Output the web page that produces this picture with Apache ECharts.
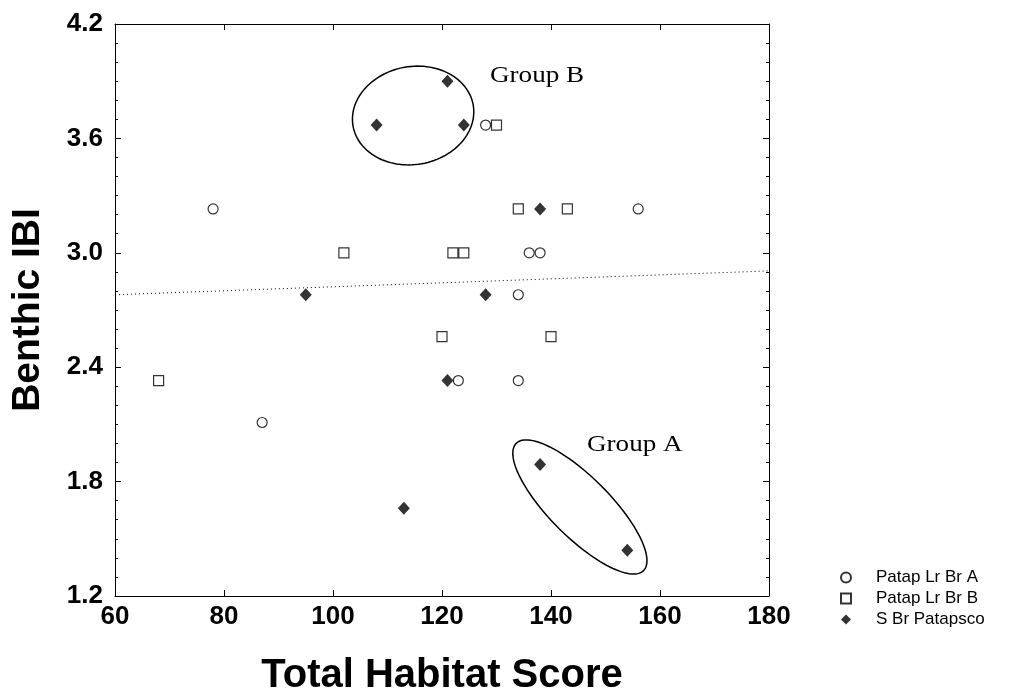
<!DOCTYPE html>
<html>
<head>
<meta charset="utf-8">
<script src="https://cdn.jsdelivr.net/npm/echarts@6/dist/echarts.min.js"></script>
<style>
  html, body { margin: 0; padding: 0; background: #fff; }
  #main { width: 1016px; height: 696px; }
</style>
</head>
<body>
<div id="main"></div>
<script>
// habitat score / benthic IBI pairs for each stream group
var patapA = [[128, 3.67], [78, 3.23], [156, 3.23], [136, 3.0], [138, 3.0],
  [134, 2.78], [123, 2.33], [134, 2.33], [87, 2.11]];
var patapB = [[130, 3.67], [134, 3.23], [143, 3.23], [102, 3.0], [122, 3.0],
  [124, 3.0], [120, 2.56], [140, 2.56], [68, 2.33]];
var sBrPatapsco = [[121, 3.9], [108, 3.67], [124, 3.67], [138, 3.23], [95, 2.78],
  [128, 2.78], [121, 2.33], [113, 1.66], [138, 1.89], [154, 1.44]];

// fitted trend line end points
var trendX = [60, 180];
var trendY = [2.78, 2.905];

// circled groups: centre in data units, label anchor in data units
var groupNames = ['Group B', 'Group A'];
var groupCentres = [[114.7, 3.72], [145.3, 1.667]];
var groupLabelAt = [[128.8, 3.93], [146.6, 1.99]];

var xTicks = [60, 80, 100, 120, 140, 160, 180];
var yTicks = [1.2, 1.8, 2.4, 3.0, 3.6, 4.2];

// ellipse shape in pixels (radius a, radius b, rotation degrees)
var ellipseShape = [[61, 49, -10], [90, 30, 45]];

var chart = echarts.init(document.getElementById('main'));

var sans = 'Arial, "Liberation Sans"';
var tickFont = { fontFamily: sans, fontWeight: 'bold', fontSize: 26, color: '#000' };

function boxAxisX(pos, showLabel) {
  return {
    type: 'value', position: pos, min: xTicks[0], max: xTicks[xTicks.length - 1], interval: 20,
    axisLine: { show: true, onZero: false, lineStyle: { color: '#000', width: 1 } },
    axisTick: { show: true, inside: true, length: 6, lineStyle: { color: '#000' } },
    splitLine: { show: false },
    axisLabel: Object.assign({ show: showLabel, margin: 8 }, tickFont)
  };
}
function boxAxisY(pos, showLabel) {
  return {
    type: 'value', position: pos, min: yTicks[0], max: yTicks[yTicks.length - 1], interval: 0.6,
    axisLine: { show: true, onZero: false, lineStyle: { color: '#000', width: 1 } },
    axisTick: { show: true, inside: true, length: 6, lineStyle: { color: '#000' } },
    minorTick: { show: true, splitNumber: 6, length: 3, lineStyle: { color: '#000' } },
    splitLine: { show: false },
    axisLabel: Object.assign({ show: showLabel, margin: 12, formatter: function (v) { return v.toFixed(1); } }, tickFont)
  };
}

var xAxes = [boxAxisX('bottom', true), boxAxisX('top', false)];
xAxes[0].name = 'Total Habitat Score';
xAxes[0].nameLocation = 'middle';
xAxes[0].nameGap = 60;
xAxes[0].nameTextStyle = { fontFamily: sans, fontWeight: 'bold', fontSize: 40, color: '#000' };
var yAxes = [boxAxisY('left', true), boxAxisY('right', false)];
yAxes[0].name = 'Benthic IBI';
yAxes[0].nameLocation = 'middle';
yAxes[0].nameGap = 67;
yAxes[0].nameTextStyle = { fontFamily: sans, fontWeight: 'bold', fontSize: 39, color: '#000' };

function openMarker(sym, size) {
  return { symbol: sym, symbolSize: size, itemStyle: { color: '#fff', borderColor: '#000', borderWidth: 1.2 } };
}

chart.setOption({
  animation: false,
  backgroundColor: '#fff',
  grid: { left: 115, right: 247, top: 24, bottom: 100, outerBoundsMode: 'none', containLabel: false },
  xAxis: xAxes,
  yAxis: yAxes,
  legend: {
    data: ['Patap Lr Br A', 'Patap Lr Br B', 'S Br Patapsco'],
    orient: 'vertical', left: 835, top: 564,
    itemWidth: 10, itemHeight: 10, itemGap: 4,
    textStyle: { fontFamily: sans, fontSize: 17, color: '#000', padding: [0, 0, 0, 20] }
  },
  series: [
    Object.assign({ name: 'Patap Lr Br A', type: 'scatter', data: patapA }, openMarker('circle', 10)),
    Object.assign({ name: 'Patap Lr Br B', type: 'scatter', data: patapB }, openMarker('rect', 10)),
    { name: 'S Br Patapsco', type: 'scatter', data: sBrPatapsco, symbol: 'diamond', symbolSize: [12, 13],
      itemStyle: { color: '#000' } },
    { name: 'trend', type: 'line', data: trendX.map(function (x, i) { return [x, trendY[i]]; }),
      symbol: 'none', silent: true,
      lineStyle: { color: '#000', width: 1, type: [1, 3] } },
    { name: 'groups', type: 'custom', clip: false, silent: true,
      data: groupCentres.map(function (c, i) { return [c[0], c[1], groupLabelAt[i][0], groupLabelAt[i][1]]; }),
      renderItem: function (params, api) {
        var c = api.coord([api.value(0), api.value(1)]);
        var lab = api.coord([api.value(2), api.value(3)]);
        var sh = ellipseShape[params.dataIndex];
        var th = sh[2] * Math.PI / 180;
        var pts = [];
        for (var k = 0; k < 120; k++) {
          var t = k / 120 * Math.PI * 2;
          pts.push([
            c[0] + sh[0] * Math.cos(t) * Math.cos(th) - sh[1] * Math.sin(t) * Math.sin(th),
            c[1] + sh[0] * Math.cos(t) * Math.sin(th) + sh[1] * Math.sin(t) * Math.cos(th)
          ]);
        }
        return {
          type: 'group',
          children: [
            { type: 'polygon', shape: { points: pts }, style: { fill: 'none', stroke: '#000', lineWidth: 1.5 } },
            { type: 'text', x: lab[0], y: lab[1], scaleX: 1.18,
              style: { text: groupNames[params.dataIndex], fill: '#000',
                font: '23px "Liberation Serif", "Times New Roman", serif', textAlign: 'left', textVerticalAlign: 'middle' } }
          ]
        };
      }
    }
  ]
});
</script>
</body>
</html>
